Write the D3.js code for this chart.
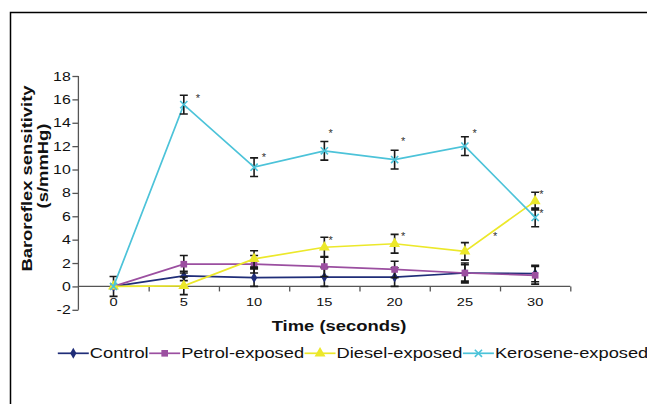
<!DOCTYPE html>
<html>
<head>
<meta charset="utf-8">
<script src="https://cdn.jsdelivr.net/npm/d3@7"></script>
<style>
  body { margin: 0; background: #fff; }
  text { font-family: "Liberation Sans", Arial, sans-serif; }
</style>
</head>
<body>
<script>
// data (means and error bar half-widths)
const times = [0, 5, 10, 15, 20, 25, 30];
const control = [0, 0.9, 0.75, 0.8, 0.8, 1.15, 1.1];
const controlErr = [0.85, 0.4, 0.75, 0.8, 0.8, 0.7, 0.7];
const petrol = [0, 1.9, 1.9, 1.7, 1.45, 1.15, 0.95];
const petrolErr = [0, 0.75, 0.75, 0.85, 0.7, 0.85, 0.75];
const diesel = [0, 0.05, 2.35, 3.35, 3.65, 3.0, 7.3];
const dieselErr = [0, 0.75, 0.7, 0.85, 0.8, 0.75, 0.75];
const kerosene = [0, 15.55, 10.2, 11.6, 10.85, 12.0, 5.9];
const keroseneErr = [0, 0.8, 0.8, 0.8, 0.8, 0.8, 0.8];
const seriesNames = ["Control", "Petrol-exposed", "Diesel-exposed", "Kerosene-exposed"];
const yTicks = [-2, 0, 2, 4, 6, 8, 10, 12, 14, 16, 18];
// significance asterisks (time, value)
const starX = [6.0, 10.7, 15.45, 20.6, 25.7, 30.45, 15.45, 20.6, 27.15, 30.45];
const starY = [16.3, 11.2, 13.3, 12.6, 13.3, 6.45, 4.1, 4.5, 4.45, 8.05];

const W = 647, H = 404;
const SX = 1.27; // text in the source is stretched sideways

const series = [
  {name: seriesNames[0], vals: control, err: controlErr, color: "#1f2d78", mark: "diamond"},
  {name: seriesNames[1], vals: petrol, err: petrolErr, color: "#9b4fa0", mark: "square"},
  {name: seriesNames[2], vals: diesel, err: dieselErr, color: "#ece82a", mark: "triangle"},
  {name: seriesNames[3], vals: kerosene, err: keroseneErr, color: "#4cc3d9", mark: "x"}
];

const svg = d3.select("body").append("svg")
    .attr("width", W)
    .attr("height", H);

// outer frame (right and bottom run off the picture)
svg.append("rect")
    .attr("x", 10.5).attr("y", 12.5)
    .attr("width", 700).attr("height", 500)
    .attr("fill", "none")
    .attr("stroke", "#000")
    .attr("stroke-width", 1.5);

const x = d3.scaleLinear().domain([-2.5, 32.5]).range([78.4, 570.3]);
const y = d3.scaleLinear().domain([-2, 18]).range([309.8, 76]);

function label(txt, px, py, size, anchor, bold, rot) {
  return svg.append("text")
    .attr("transform", "translate(" + px + "," + py + ")" + (rot ? " rotate(-90)" : "") + " scale(" + SX + ",1)")
    .attr("text-anchor", anchor)
    .attr("font-size", size + "px")
    .attr("font-weight", bold ? "bold" : "normal")
    .attr("fill", "#111")
    .text(txt);
}

// y axis
const yAxis = d3.axisLeft(y).tickValues(yTicks).tickSize(6).tickFormat("");
const gy = svg.append("g")
    .attr("transform", "translate(" + x(-2.5) + ",0)")
    .call(yAxis);
gy.select(".domain").attr("d", "M0," + y(-2) + "V" + y(18));
yTicks.forEach(t => label(String(t), 70.7, y(t) + 4.5, 12.5, "end"));

// x axis sits on the zero line, ticks fall between categories
const bounds = d3.range(-2.5, 33, 5);
const xAxis = d3.axisBottom(x).tickValues(bounds).tickSize(5).tickFormat("");
const gx = svg.append("g")
    .attr("transform", "translate(0," + y(0) + ")")
    .call(xAxis);
gx.select(".domain").attr("d", "M" + x(-2.5) + ",0H" + x(32.5));
gx.selectAll(".tick").filter(d => d === -2.5).remove();
times.forEach(t => label(String(t), x(t), 305.5, 11.5, "middle"));

[gx, gy].forEach(g => {
  g.selectAll("path, line").attr("stroke", "#555").attr("stroke-width", 1.3);
});

// axis titles
label("Time (seconds)", 339, 331, 14.5, "middle", true);
label("Baroreflex sensitivity", 32, 178.5, 14.5, "middle", true, true);
label("(s/mmHg)", 47.5, 166, 14.5, "middle", true, true);

function marker(g, kind, color, cx, cy) {
  if (kind === "x") {
    const r = 3.6;
    g.append("path")
      .attr("d", `M${cx - r},${cy - r}L${cx + r},${cy + r}M${cx - r},${cy + r}L${cx + r},${cy - r}`)
      .attr("stroke", color).attr("stroke-width", 1.6).attr("fill", "none");
    return;
  }
  const sym = kind === "diamond" ? d3.symbolDiamond : kind === "square" ? d3.symbolSquare : d3.symbolTriangle;
  const size = kind === "diamond" ? 34 : kind === "square" ? 44 : 52;
  g.append("path")
    .attr("d", d3.symbol().type(sym).size(size)())
    .attr("transform", "translate(" + cx + "," + cy + ")")
    .attr("fill", color);
}

const line = d3.line().x(d => x(d[0])).y(d => y(d[1]));

series.forEach(s => {
  const g = svg.append("g");
  const pts = times.map((t, i) => [t, s.vals[i], s.err[i]]);
  g.append("path")
    .datum(pts)
    .attr("d", line)
    .attr("fill", "none")
    .attr("stroke", s.color)
    .attr("stroke-width", 1.7);
  // error bars
  pts.filter(p => p[2] > 0).forEach(p => {
    const cx = x(p[0]), y1 = y(p[1] + p[2]), y2 = y(p[1] - p[2]);
    g.append("path")
      .attr("d", `M${cx},${y1}V${y2}M${cx - 4},${y1}H${cx + 4}M${cx - 4},${y2}H${cx + 4}`)
      .attr("stroke", "#1a1a1a")
      .attr("stroke-width", 1.6)
      .attr("fill", "none");
  });
  pts.forEach(p => marker(g, s.mark, s.color, x(p[0]), y(p[1])));
});

// asterisks
starX.forEach((sx, i) => {
  svg.append("text")
    .attr("x", x(sx)).attr("y", y(starY[i]) + 6)
    .attr("text-anchor", "middle")
    .attr("font-size", "11px")
    .attr("fill", "#333")
    .text("*");
});

// legend
let lx = 57.8;
const ly = 353.3;
series.forEach(s => {
  const g = svg.append("g");
  g.append("line")
    .attr("x1", lx).attr("x2", lx + 31)
    .attr("y1", ly).attr("y2", ly)
    .attr("stroke", s.color).attr("stroke-width", 1.7);
  marker(g, s.mark, s.color, lx + 15.5, ly);
  const t = label(s.name, lx + 32, 358.3, 14.4, "start");
  lx += 32 + t.node().getComputedTextLength() * SX + 0.5;
});
</script>
</body>
</html>
